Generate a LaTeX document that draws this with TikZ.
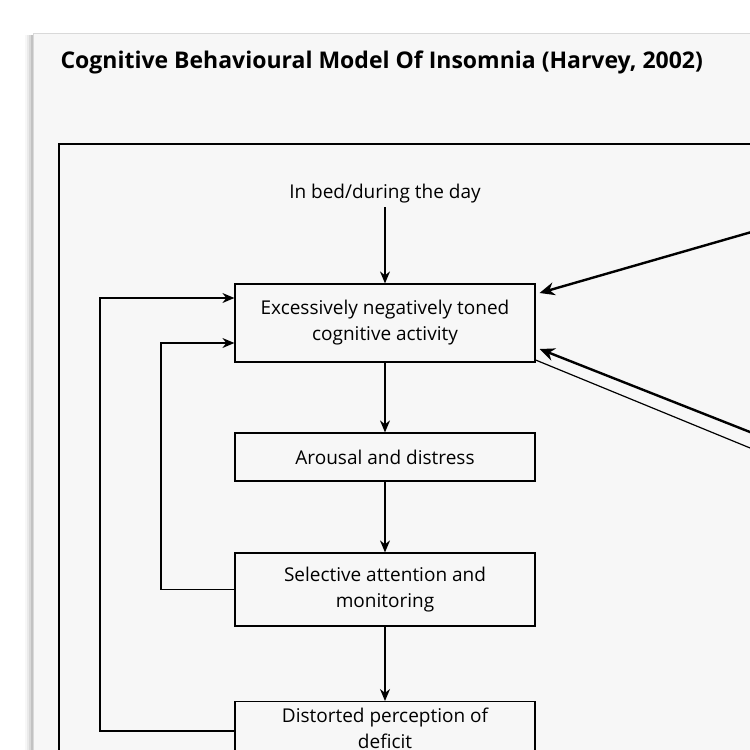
\documentclass[tikz,border=0pt]{standalone}
\usepackage{fontspec}
\setmainfont{Open Sans}
\usetikzlibrary{arrows.meta}
\begin{document}
\begin{tikzpicture}[x=1pt,y=-1pt,
  box/.style={draw,line width=1.2pt,fill=paper,minimum width=300pt,align=center,font=\fontsize{19}{26}\selectfont,inner sep=0pt},
  arr/.style={-{Stealth[length=12pt,width=10pt]},line width=1.3pt},
  thick arr/.style={-{Stealth[length=15pt,width=13pt]},line width=2.4pt}]
\definecolor{paper}{HTML}{F7F7F7}
\useasboundingbox (0,0) rectangle (750,750);
\clip (0,0) rectangle (750,750);
\fill[white] (0,0) rectangle (750,750);
\foreach \i/\o in {8/0.03,6/0.05,4/0.07,2/0.1}{\fill[black,opacity=\o] (33-\i,35) rectangle (760,760);}
\fill[paper,draw=black!15] (33,33) rectangle (760,760);
\node[anchor=west,font=\fontsize{23}{27}\selectfont\bfseries] (title) at (57,62) {Cognitive Behavioural Model Of Insomnia (Harvey, 2002)};
\draw[line width=1.2pt] (59,800) |- (800,144);
\node[font=\fontsize{19}{22}\selectfont] (bed) at (385,194) {In bed/during the day};
\node[box,minimum height=78pt] (ex) at (385,323) {Excessively negatively toned\\cognitive activity};
\node[box,minimum height=48pt] (ar) at (385,457) {Arousal and distress};
\node[box,minimum height=73pt] (se) at (385,589.5) {Selective attention and\\monitoring};
\node[box,inner ysep=6pt,anchor=north] (di) at (385,701) {Distorted perception of\\deficit\\ \strut};
\draw[arr] (bed) -- (ex);
\draw[arr] (ex) -- (ar);
\draw[arr] (ar) -- (se);
\draw[arr] (se) -- (di);
\draw[arr] (se.west) -- (161,589.5) |- ([yshift=-20pt]ex.west);
\draw[arr] (di.west |- 0,731) -- (100,731) |- ([yshift=25pt]ex.west);
\coordinate (r1) at (755,231);
\coordinate (r2) at (755,434);
\coordinate (r3) at (755,450);
\draw[thick arr] (r1) -- ([xshift=4pt,yshift=30pt]ex.east);
\draw[thick arr] (r2) -- ([xshift=4pt,yshift=-26pt]ex.east);
\draw[line width=1.2pt] ([yshift=-37pt]ex.east) -- (r3);
\end{tikzpicture}
\end{document}
